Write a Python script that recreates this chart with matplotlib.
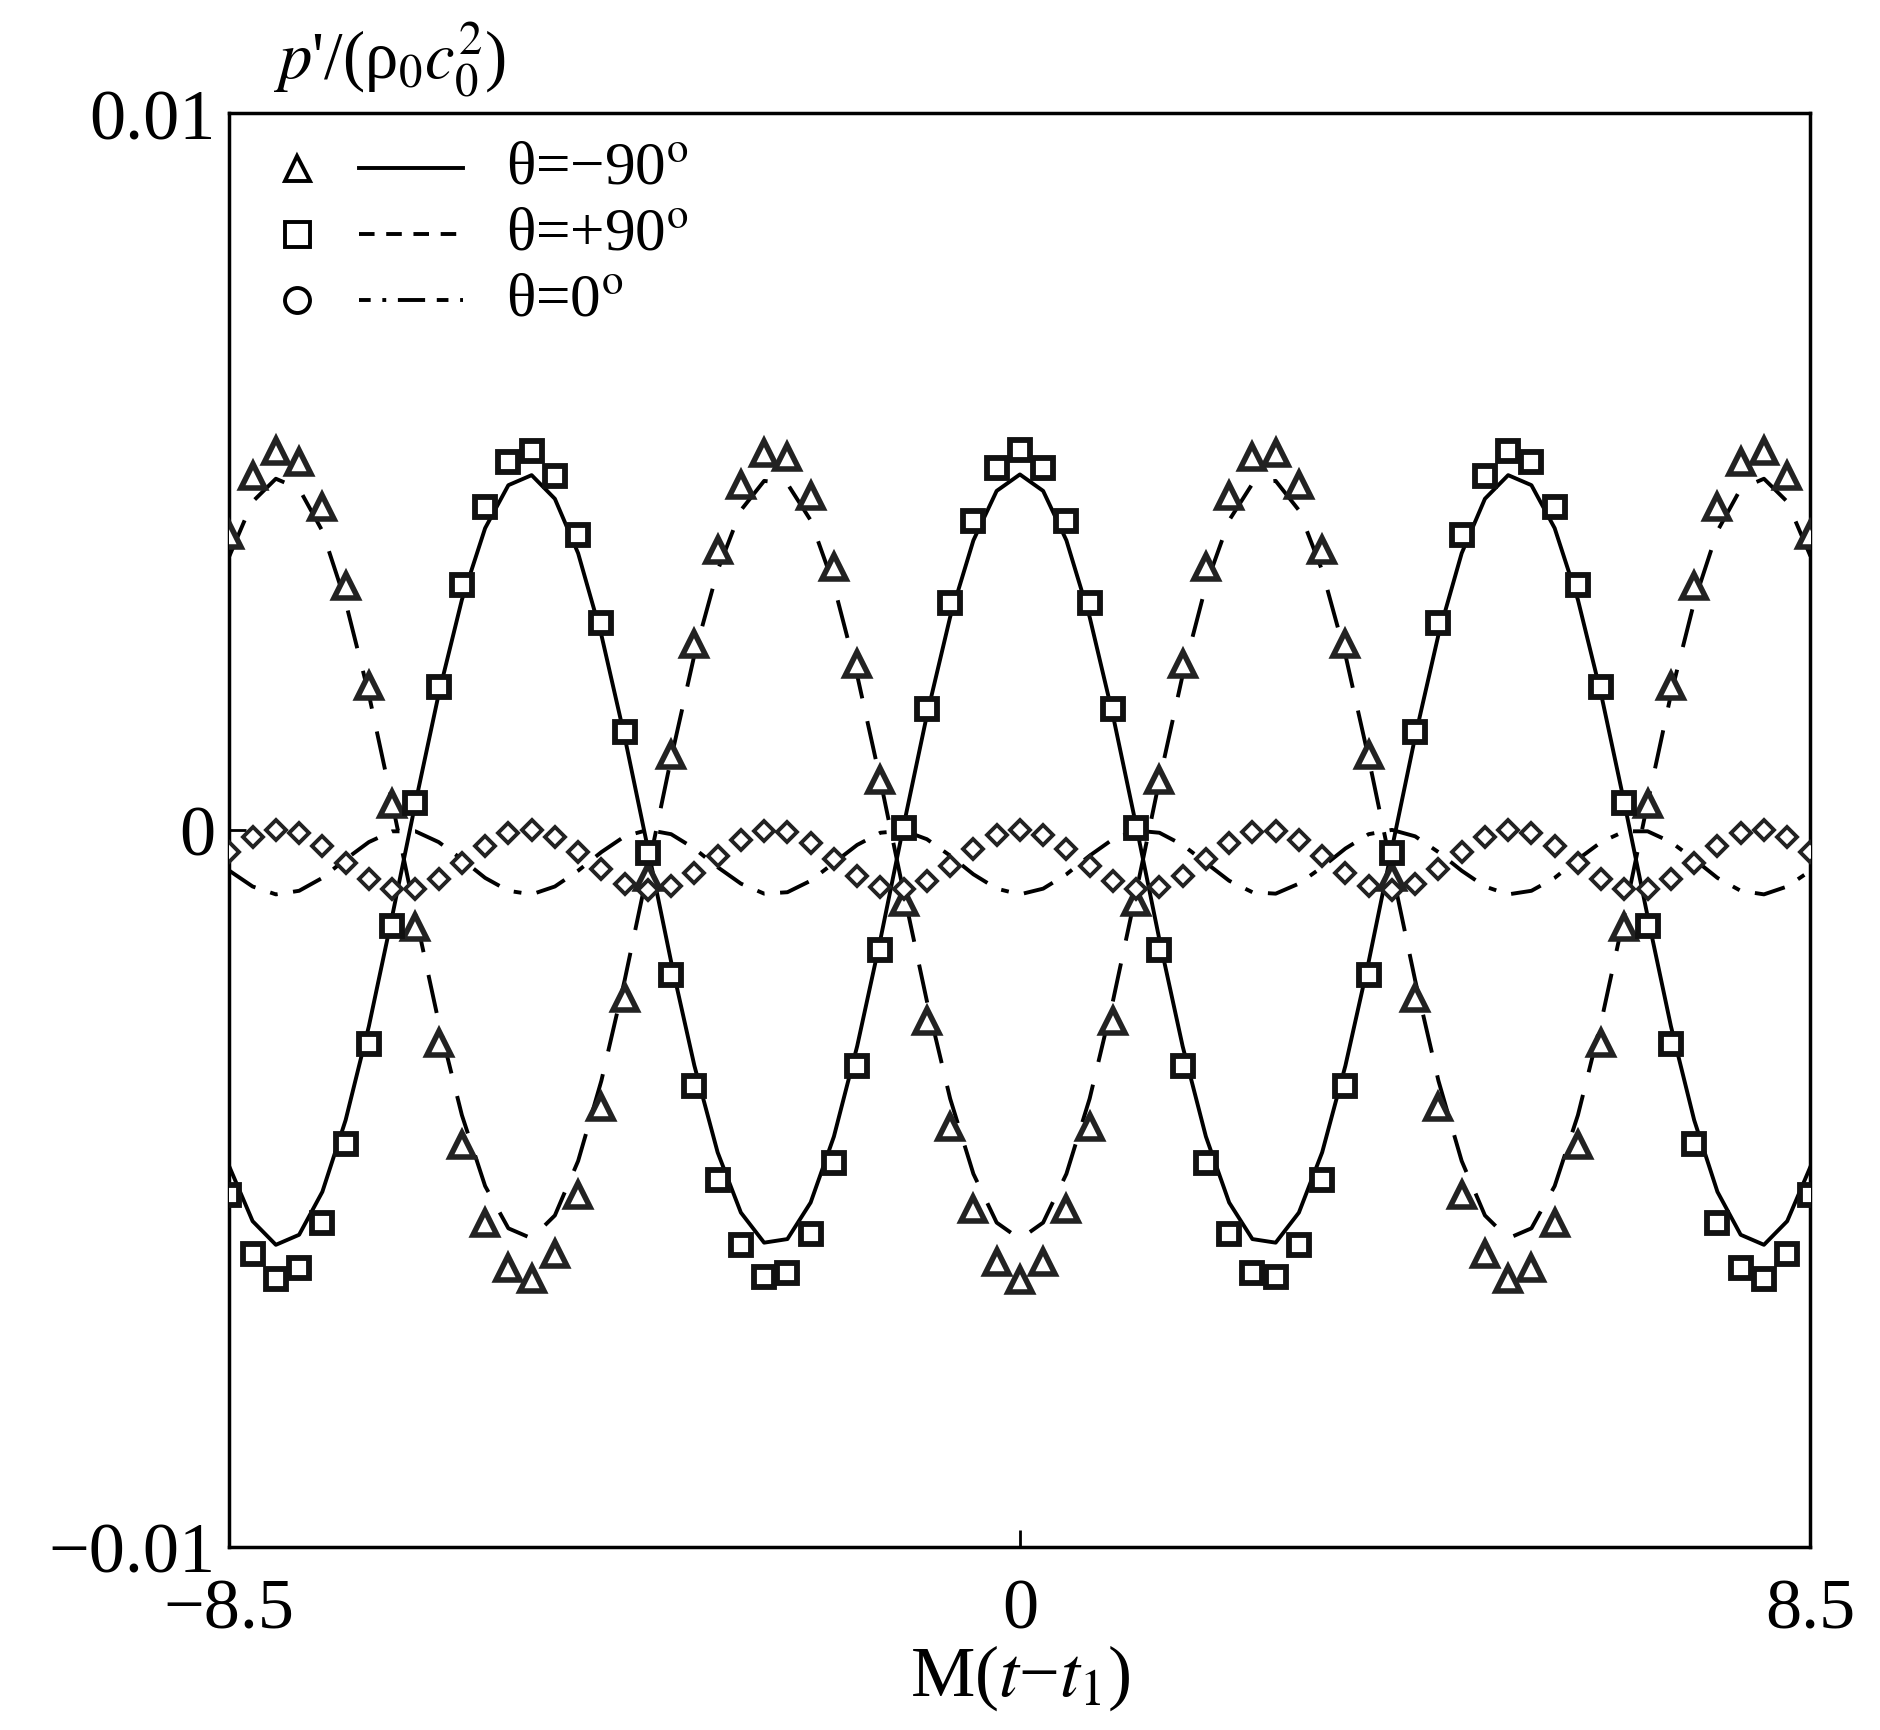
import matplotlib
matplotlib.use("Agg")
import matplotlib.pyplot as plt
from matplotlib.lines import Line2D

# x grid (M(t-t1)), step 0.25
x = [-8.5 + 0.25 * i for i in range(69)]

# values in units of 1e-3
solid = [-4.70,-5.46,-5.79,-5.65,-5.05,-4.05,-2.74,-1.21,0.37,1.89,3.21,4.21,4.81,4.95,4.62,3.86,2.72,1.30,-0.26,-1.84,-3.29,-4.50,-5.34,-5.76,-5.71,-5.20,-4.28,-3.02,-1.53,0.06,1.60,2.97,4.04,4.73,
         4.96,
         4.73,4.04,2.97,1.60,0.06,-1.53,-3.02,-4.28,-5.20,-5.71,-5.76,-5.34,-4.50,-3.29,-1.84,-0.26,1.30,2.72,3.86,4.62,4.95,4.81,4.21,3.21,1.89,0.37,-1.21,-2.74,-4.05,-5.05,-5.65,-5.79,-5.46,-4.70]
squares = [-5.09,-5.92,-6.27,-6.12,-5.48,-4.39,-2.99,-1.34,0.37,2.00,3.42,4.50,5.14,5.29,4.94,4.11,2.89,1.36,-0.32,-2.02,-3.58,-4.88,-5.79,-6.24,-6.19,-5.64,-4.65,-3.29,-1.68,0.02,1.68,3.16,4.31,5.05,
           5.30,
           5.05,4.31,3.16,1.68,0.02,-1.68,-3.29,-4.65,-5.64,-6.19,-6.24,-5.79,-4.88,-3.58,-2.02,-0.32,1.36,2.89,4.11,4.94,5.29,5.14,4.50,3.42,2.00,0.37,-1.34,-2.99,-4.39,-5.48,-6.12,-6.27,-5.92,-5.09]
triangles = [4.11,4.94,5.29,5.14,4.50,3.41,2.01,0.36,-1.35,-2.98,-4.40,-5.48,-6.12,-6.27,-5.92,-5.09,-3.87,-2.34,-0.66,1.04,2.60,3.90,4.81,5.26,5.21,4.66,3.67,2.31,0.70,-1.00,-2.66,-4.14,-5.29,-6.03,
             -6.28,
             -6.03,-5.29,-4.14,-2.66,-1.00,0.70,2.31,3.67,4.66,5.21,5.26,4.81,3.90,2.60,1.04,-0.66,-2.34,-3.87,-5.09,-5.92,-6.27,-6.12,-5.48,-4.40,-2.98,-1.35,0.36,2.01,3.41,4.50,5.14,5.29,4.94,4.11]
dashed = [3.82,4.58,4.90,4.76,4.17,3.18,1.89,0.38,-1.18,-2.68,-3.98,-4.97,-5.56,-5.70,-5.38,-4.62,-3.50,-2.10,-0.56,1.00,2.44,3.62,4.46,4.87,4.83,4.32,3.41,2.16,0.69,-0.87,-2.39,-3.75,-4.80,-5.48,
          -5.71,
          -5.48,-4.80,-3.75,-2.39,-0.87,0.69,2.16,3.41,4.32,4.83,4.87,4.46,3.62,2.44,1.00,-0.56,-2.10,-3.50,-4.62,-5.38,-5.70,-5.56,-4.97,-3.98,-2.68,-1.18,0.38,1.89,3.18,4.17,4.76,4.90,4.58,3.82]
circles = [-0.31,-0.10,0.00,-0.05,-0.22,-0.46,-0.68,-0.82,-0.82,-0.68,-0.46,-0.22,-0.05,0.00,-0.10,-0.31,-0.55,-0.75,-0.84,-0.78,-0.60,-0.36,-0.14,-0.01,-0.03,-0.18,-0.41,-0.64,-0.80,-0.83,-0.72,-0.51,-0.26,-0.07,
           0.00,
           -0.07,-0.26,-0.51,-0.72,-0.83,-0.80,-0.64,-0.41,-0.18,-0.03,-0.01,-0.14,-0.36,-0.60,-0.78,-0.84,-0.75,-0.55,-0.31,-0.10,0.00,-0.05,-0.22,-0.46,-0.68,-0.82,-0.82,-0.68,-0.46,-0.22,-0.05,0.00,-0.10,-0.31]
dashdot = [-0.57,-0.79,-0.90,-0.85,-0.67,-0.41,-0.17,-0.02,-0.02,-0.17,-0.41,-0.67,-0.85,-0.90,-0.79,-0.57,-0.31,-0.09,0.00,-0.06,-0.26,-0.52,-0.75,-0.89,-0.87,-0.71,-0.46,-0.21,-0.04,-0.01,-0.13,-0.36,-0.62,-0.82,
           -0.90,
           -0.82,-0.62,-0.36,-0.13,-0.01,-0.04,-0.21,-0.46,-0.71,-0.87,-0.89,-0.75,-0.52,-0.26,-0.06,0.00,-0.09,-0.31,-0.57,-0.79,-0.90,-0.85,-0.67,-0.41,-0.17,-0.02,-0.02,-0.17,-0.41,-0.67,-0.85,-0.90,-0.79,-0.57]

legend_labels = ["θ=−90$^{\\rm o}$", "θ=+90$^{\\rm o}$", "θ=0$^{\\rm o}$"]
xticks = [-8.5, 0, 8.5]
xticklabels = ["−8.5", "0", "8.5"]
yticks = [0.01, 0, -0.01]
yticklabels = ["0.01", "0", "−0.01"]

S = 1e-3
plt.rcParams['font.family'] = ['Liberation Serif', 'DejaVu Serif']
plt.rcParams['mathtext.fontset'] = 'stix'

fig = plt.figure(figsize=(18.8, 17.31), dpi=100)
ax = fig.add_axes([0.122, 0.106, 0.841, 0.828])

ax.plot(x, [v*S for v in solid], color='black', lw=2.8, ls='-', zorder=2)
ax.plot(x, [v*S for v in dashed], color='black', lw=2.8, ls=(0, (10, 6)), zorder=2)
ax.plot(x, [v*S for v in dashdot], color='black', lw=2.8, ls=(0, (8, 4, 2, 4)), zorder=2)
ax.plot(x, [v*S for v in triangles], ls='none', marker='^', ms=17, mfc='white', mec='#222222', mew=4, zorder=3)
ax.plot(x, [v*S for v in squares], ls='none', marker='s', ms=15, mfc='white', mec='#111111', mew=4.2, zorder=3)
ax.plot(x, [v*S for v in circles], ls='none', marker='D', ms=10, mfc='white', mec='#222222', mew=2.8, zorder=3)

ax.set_xlim(-8.5, 8.5)
ax.set_ylim(-0.01, 0.01)
ax.set_xticks(xticks)
ax.set_xticklabels(xticklabels)
ax.set_yticks(yticks)
ax.set_yticklabels(yticklabels)
ax.tick_params(direction='in', length=12, width=2, labelsize=52)
ax.tick_params(axis='x', pad=22)
ax.tick_params(axis='y', pad=10)
for sp in ax.spines.values():
    sp.set_linewidth(2.5)

ax.set_xlabel("M($t$−$t_1$)", fontsize=52, labelpad=0)
fig.text(0.145, 0.965, "$p$'/(ρ$_0$$c_0^2$)", fontsize=48, ha='left', va='center')

# legend
mk = ['^', 's', 'o']
lss = ['-', (0, (4, 3)), (0, (3, 3, 1, 3, 7, 3))]
ys = [0.962, 0.916, 0.870]
for m, l, yy, lab in zip(mk, lss, ys, legend_labels):
    ax.plot([0.043], [yy], transform=ax.transAxes, marker=m, ms=18, mfc='white', mec='black', mew=2.8, ls='none')
    ax.add_line(Line2D([0.082, 0.148], [yy, yy], transform=ax.transAxes, color='black', lw=2.8, ls=l))
    ax.text(0.175, yy, lab, transform=ax.transAxes, fontsize=44, va='center')

fig.savefig("out.png", dpi=100)
